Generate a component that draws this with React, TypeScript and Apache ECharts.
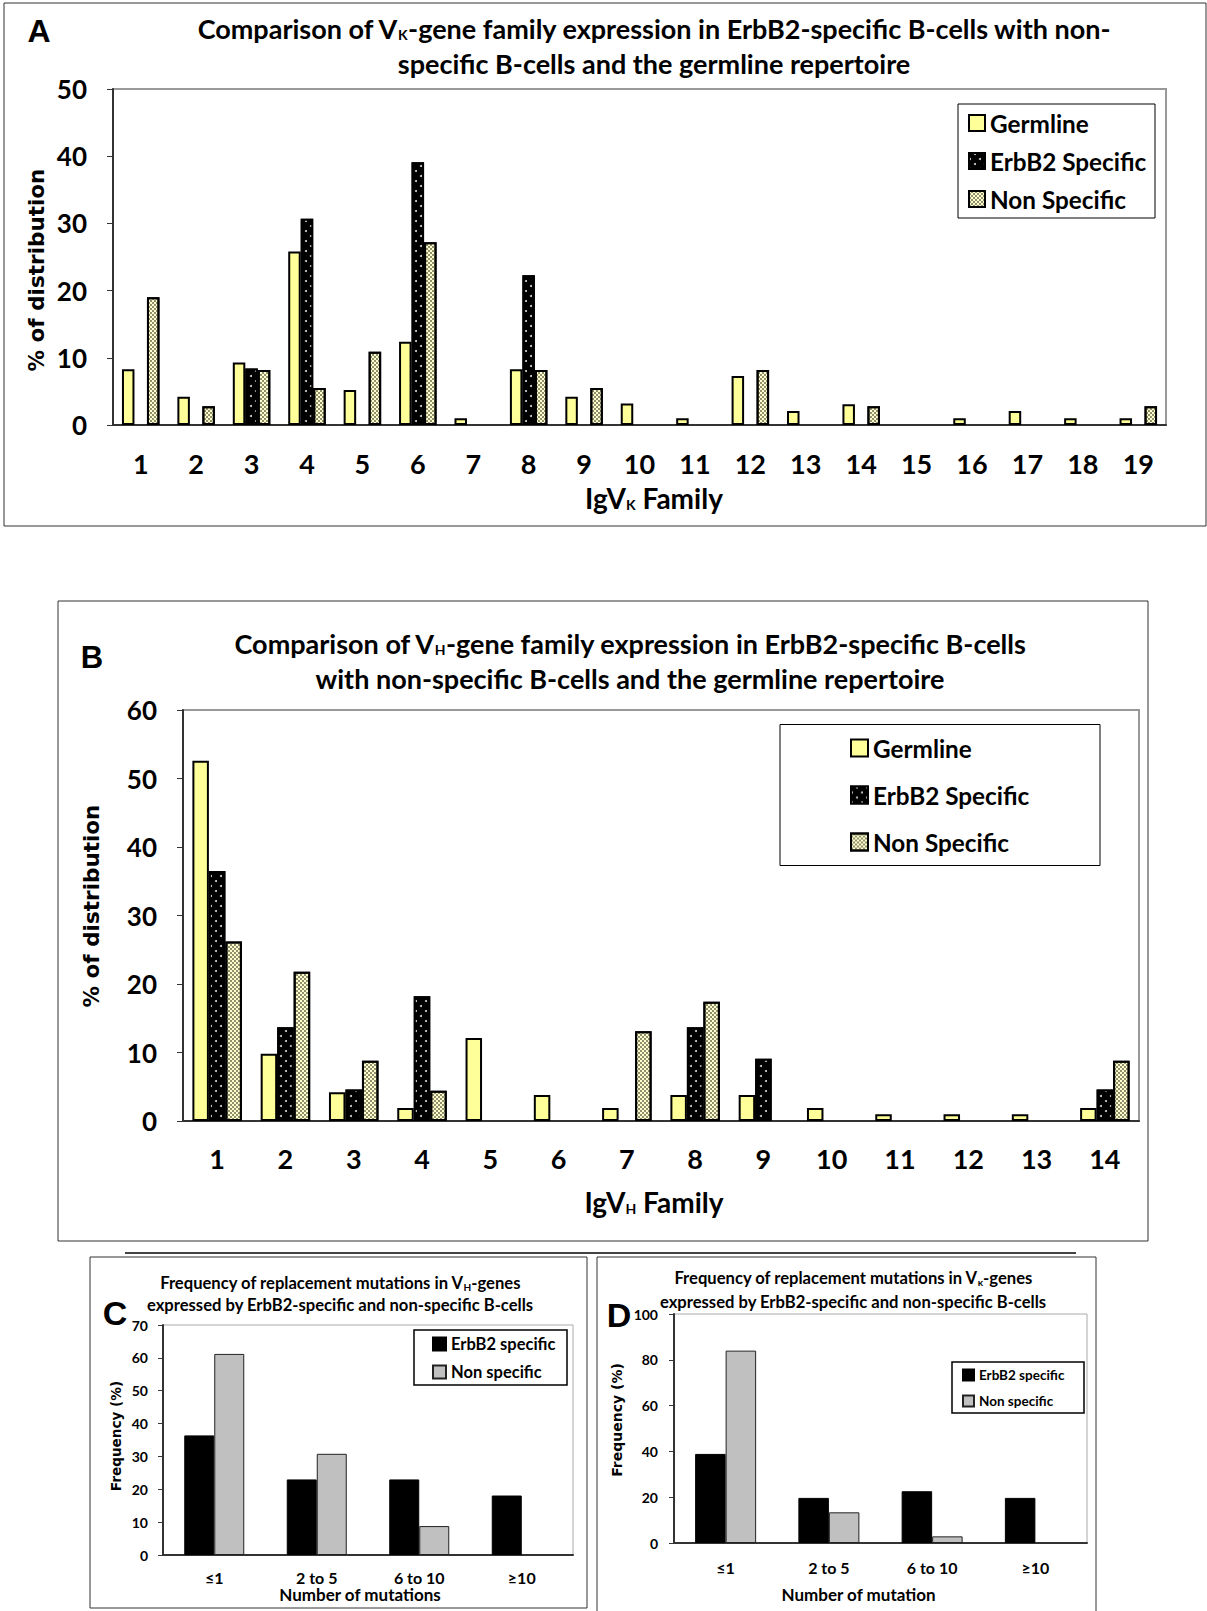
import React, { useEffect, useRef } from "react";
import * as echarts from "echarts";

// ---------- Data ----------
const vkFamilies = ["1","2","3","4","5","6","7","8","9","10","11","12","13","14","15","16","17","18","19"];
const vkGermline = [8.3, 4.2, 9.3, 25.8, 5.2, 12.4, 1.0, 8.3, 4.2, 3.2, 1.0, 7.3, 2.1, 3.1, 0, 1.0, 2.1, 1.0, 1.0];
const vkErbB2 = [0, 0, 8.4, 30.7, 0, 39.1, 0, 22.3, 0, 0, 0, 0, 0, 0, 0, 0, 0, 0, 0];
const vkNonSpecific = [19.0, 2.8, 8.2, 5.5, 10.9, 27.2, 0, 8.2, 5.5, 0, 0, 8.2, 0, 2.8, 0, 0, 0, 0, 2.8];

const vhFamilies = ["1","2","3","4","5","6","7","8","9","10","11","12","13","14"];
const vhGermline = [52.6, 9.8, 4.2, 1.9, 12.1, 3.8, 1.9, 3.8, 3.8, 1.9, 1.0, 1.0, 1.0, 1.9];
const vhErbB2 = [36.5, 13.7, 4.6, 18.2, 0, 0, 0, 13.7, 9.1, 0, 0, 0, 0, 4.6];
const vhNonSpecific = [26.2, 21.8, 8.8, 4.4, 0, 0, 13.1, 17.4, 0, 0, 0, 0, 0, 8.8];

const mutCategories = ["≤1", "2 to 5", "6 to 10", "≥10"];
const vhMutErbB2 = [36.4, 23.0, 23.0, 18.1];
const vhMutNon = [61.2, 30.8, 8.8, 0];
const vkMutErbB2 = [38.9, 19.7, 22.6, 19.7];
const vkMutNon = [84.0, 13.4, 2.9, 0];

const abLegend = ["Germline", "ErbB2 Specific", "Non Specific"];
const cdLegend = ["ErbB2 specific", "Non specific"];

// ---------- Styles ----------
const FN = "Lato, 'DejaVu Sans Condensed', sans-serif";
const FW = "'DejaVu Sans', Verdana, sans-serif";
const FA = "'Liberation Sans', Arial, sans-serif";

const dotDecal = {
  symbol: "circle",
  symbolSize: 1,
  color: "#d8d8d8",
  dashArrayX: [[2, 8], [0, 5, 2, 3]],
  dashArrayY: [2, 3],
};
const checkDecal = {
  symbol: "rect",
  symbolSize: 1,
  color: "rgba(70,70,50,0.6)",
  dashArrayX: [[2, 2], [0, 2, 2, 0]],
  dashArrayY: [2, 0],
};

const nz = (arr: number[]) => arr.map((v) => (v === 0 ? "-" : v));

const tickFont = (size: number) => ({
  fontSize: size,
  fontWeight: "bold",
  color: "#000",
  fontFamily: FN,
});

function catAxis(gridIndex: number, data: string[], o: any) {
  const sh = o.shift || 0;
  return {
    type: "category",
    gridIndex,
    data,
    axisLine: { lineStyle: { color: "#333", width: 2 } },
    axisTick: { length: o.tick, lineStyle: { color: "#333", width: 1 } },
    axisLabel: { margin: o.margin, ...tickFont(o.font) },
    name: o.name,
    nameLocation: "middle",
    nameGap: o.nameGap,
    nameTextStyle: {
      fontSize: o.nameSize,
      fontWeight: "bold",
      color: "#000",
      fontFamily: FN,
      padding: [0, Math.max(sh, 0), 0, Math.max(-sh, 0)],
      rich: {
        s: { fontSize: o.subSize, fontWeight: "bold", fontFamily: FN, color: "#000", padding: [o.subPad, 0, 0, 0] },
      },
    },
  };
}

function valAxis(gridIndex: number, max: number, interval: number, o: any) {
  return {
    type: "value",
    gridIndex,
    min: 0,
    max,
    interval,
    axisLine: { show: true, lineStyle: { color: "#333", width: 2 } },
    axisTick: { show: true, length: o.tick, lineStyle: { color: "#333", width: 1 } },
    splitLine: { show: false },
    axisLabel: { margin: o.margin, ...tickFont(o.font) },
  };
}

function legendAt(data: string[], left: number, top: number, o: any) {
  return {
    data,
    orient: "vertical",
    left,
    top,
    padding: 0,
    itemGap: o.itemGap,
    itemWidth: o.icon,
    itemHeight: o.icon,
    itemTextGap: o.textGap,
    icon: "rect",
    borderWidth: 0,
    selectedMode: false,
    textStyle: { fontSize: o.font, lineHeight: o.lh, fontWeight: "bold", color: "#000", fontFamily: FN },
  };
}

function titleText(x: number, y: number, text: string, size: number, subSize: number, subPad: number) {
  return {
    type: "text",
    x,
    y,
    silent: true,
    style: {
      text,
      align: "center",
      verticalAlign: "middle",
      fontSize: size,
      fontWeight: "bold",
      fontFamily: FN,
      fill: "#000",
      rich: {
        s: { fontSize: subSize, fontWeight: "bold", fontFamily: FN, fill: "#000", padding: [subPad, 0, 0, 0] },
      },
    },
  };
}

function letter(x: number, y: number, text: string, size: number) {
  return {
    type: "text",
    x,
    y,
    silent: true,
    style: { text, align: "center", verticalAlign: "middle", fontSize: size, fontWeight: "bold", fontFamily: FA, fill: "#000" },
  };
}

function yName(x: number, y: number, text: string, size: number) {
  return {
    type: "text",
    x,
    y,
    rotation: Math.PI / 2,
    silent: true,
    style: { text, align: "center", verticalAlign: "middle", fontSize: size, fontWeight: "bold", fontFamily: FW, fill: "#000" },
  };
}

function box(x: number, y: number, w: number, h: number, stroke = "#333", lw = 1) {
  return {
    type: "rect",
    silent: true,
    shape: { x, y, width: w, height: h },
    style: { fill: "none", stroke, lineWidth: lw },
  };
}

export default function App() {
  const ref = useRef<HTMLDivElement>(null);

  useEffect(() => {
    document.body.style.margin = "0";
    if (!ref.current) return;
    const chart = echarts.init(ref.current, null, { renderer: "svg" });

    const barStyleAB = (name: string) => {
      if (name === "Germline") return { color: "#ffff99", borderColor: "#000", borderWidth: 2 };
      if (name === "ErbB2 Specific") return { color: "#000", borderColor: "#000", borderWidth: 2, decal: dotDecal };
      return { color: "#ffffcc", borderColor: "#000", borderWidth: 2, decal: checkDecal };
    };

    const abSeries = (idx: number, width: number, g: number[], e: number[], n: number[]) =>
      [
        ["Germline", g],
        ["ErbB2 Specific", e],
        ["Non Specific", n],
      ].map(([name, vals]: any) => ({
        type: "bar",
        name,
        xAxisIndex: idx,
        yAxisIndex: idx,
        barWidth: width,
        barGap: "0%",
        data: nz(vals),
        itemStyle: barStyleAB(name),
      }));

    const cdSeries = (idx: number, width: number, e: number[], n: number[]) => [
      {
        type: "bar",
        name: "ErbB2 specific",
        xAxisIndex: idx,
        yAxisIndex: idx,
        barWidth: width,
        barGap: "0%",
        data: nz(e),
        itemStyle: { color: "#000", borderColor: "#000", borderWidth: 1 },
      },
      {
        type: "bar",
        name: "Non specific",
        xAxisIndex: idx,
        yAxisIndex: idx,
        barWidth: width,
        barGap: "0%",
        data: nz(n),
        itemStyle: { color: "#c0c0c0", borderColor: "#222", borderWidth: 1 },
      },
    ];

    const option: any = {
      animation: false,
      backgroundColor: "#fff",
      grid: [
        { left: 113, top: 89, width: 1053, height: 336, show: true, borderColor: "#999", borderWidth: 2, backgroundColor: "transparent" },
        { left: 183, top: 710, width: 956, height: 411, show: true, borderColor: "#999", borderWidth: 2, backgroundColor: "transparent" },
        { left: 163, top: 1325, width: 410, height: 230, show: true, borderColor: "#aaa", borderWidth: 1, backgroundColor: "transparent" },
        { left: 674, top: 1314, width: 413, height: 229, show: true, borderColor: "#aaa", borderWidth: 1, backgroundColor: "transparent" },
      ],
      xAxis: [
        catAxis(0, vkFamilies, { tick: 8, margin: 25, font: 27, name: "IgV{s|K} Family", nameGap: 59, nameSize: 28, subSize: 14, subPad: 13, shift: -29 }),
        catAxis(1, vhFamilies, { tick: 8, margin: 24, font: 27, name: "IgV{s|H} Family", nameGap: 67, nameSize: 28, subSize: 14, subPad: 13, shift: 14 }),
        catAxis(2, mutCategories, { tick: 6, margin: 14, font: 16, name: "Number of mutations", nameGap: 19, nameSize: 17, subSize: 10, subPad: 6, shift: 16 }),
        catAxis(3, mutCategories, { tick: 6, margin: 16, font: 16, name: "Number of mutation", nameGap: 43, nameSize: 17, subSize: 10, subPad: 6, shift: 44 }),
      ],
      yAxis: [
        valAxis(0, 50, 10, { tick: 6, margin: 26, font: 26 }),
        valAxis(1, 60, 10, { tick: 6, margin: 26, font: 26 }),
        valAxis(2, 70, 10, { tick: 5, margin: 15, font: 14 }),
        valAxis(3, 100, 20, { tick: 5, margin: 16, font: 14 }),
      ],
      legend: [
        legendAt(abLegend, 968, 109, { itemGap: 10, icon: 16, textGap: 6, font: 24.3, lh: 28 }),
        legendAt(abLegend, 850, 734, { itemGap: 19, icon: 17, textGap: 5, font: 24.3, lh: 28 }),
        legendAt(cdLegend, 432, 1334, { itemGap: 8, icon: 13, textGap: 3, font: 16.5, lh: 20 }),
        legendAt(cdLegend, 962, 1366, { itemGap: 8, icon: 11, textGap: 5, font: 13.5, lh: 18 }),
      ],
      series: [
        ...abSeries(0, 12.5, vkGermline, vkErbB2, vkNonSpecific),
        ...abSeries(1, 16.5, vhGermline, vhErbB2, vhNonSpecific),
        ...cdSeries(2, 30, vhMutErbB2, vhMutNon),
        ...cdSeries(3, 30.5, vkMutErbB2, vkMutNon),
      ],
      graphic: [
        box(4, 3, 1202, 523),
        box(58, 601, 1090, 640),
        { type: "line", silent: true, shape: { x1: 125, y1: 1253, x2: 1076, y2: 1253 }, style: { stroke: "#444", lineWidth: 2 } },
        box(90, 1257, 497, 351),
        box(597, 1257, 499, 360),
        box(958, 104, 197, 114, "#000", 1),
        box(780, 724.5, 320, 141, "#000", 1),
        box(414, 1330, 153, 55, "#000", 1.5),
        box(952, 1362, 132, 51, "#000", 1.5),
        letter(39, 31, "A", 32),
        letter(92, 657, "B", 31),
        letter(115, 1313, "C", 34),
        letter(619, 1315, "D", 34),
        titleText(654, 28, "Comparison of V{s|K}-gene family expression in ErbB2-specific B-cells with non-", 27, 14, 13),
        titleText(654, 63, "specific B-cells and the germline repertoire", 27, 14, 13),
        titleText(630, 643, "Comparison of V{s|H}-gene family expression in ErbB2-specific B-cells", 27, 14, 13),
        titleText(630, 678, "with non-specific B-cells and the germline repertoire", 27, 14, 13),
        titleText(340, 1283, "Frequency of replacement mutations in V{s|H}-genes", 16.6, 10, 8),
        titleText(340, 1305, "expressed by ErbB2-specific and non-specific B-cells", 16.6, 10, 8),
        titleText(853, 1278, "Frequency of replacement mutations in V{s|κ}-genes", 16.6, 10, 8),
        titleText(853, 1302, "expressed by ErbB2-specific and non-specific B-cells", 16.6, 10, 8),
        yName(36, 270, "% of distribution", 21.5),
        yName(91, 906, "% of distribution", 21.5),
        yName(116, 1436, "Frequency (%)", 13.6),
        yName(617, 1420, "Frequency (%)", 14),
      ],
    };

    chart.setOption(option);
    return () => chart.dispose();
  }, []);

  return <div ref={ref} style={{ width: 1207, height: 1611 }} />;
}
